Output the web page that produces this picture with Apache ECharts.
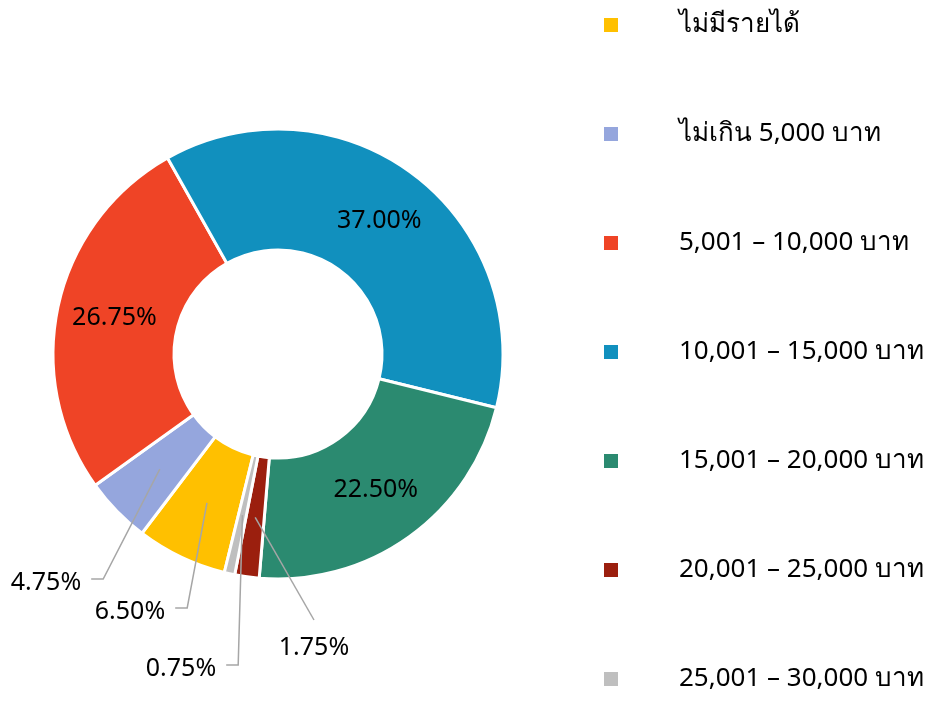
<!DOCTYPE html>
<html>
<head>
<meta charset="utf-8">
<script src="https://cdn.jsdelivr.net/npm/echarts@6/dist/echarts.min.js"></script>
<style>
  html, body { margin: 0; padding: 0; background: #fff; }
  #chart { width: 945px; height: 702px; }
</style>
</head>
<body>
<div id="chart"></div>
<script>
// ช่วงรายได้ (legend order, also clockwise order of the slices)
const categories = [
  'ไม่มีรายได้',
  'ไม่เกิน 5,000 บาท',
  '5,001 – 10,000 บาท',
  '10,001 – 15,000 บาท',
  '15,001 – 20,000 บาท',
  '20,001 – 25,000 บาท',
  '25,001 – 30,000 บาท'
];
const percents = [6.50, 4.75, 26.75, 37.00, 22.50, 1.75, 0.75];
const colors = ['#FFC000', '#95A6DD', '#EF4426', '#1190BE', '#2B8A70', '#9B1F0E', '#BFBFBF'];

// slices whose value sits inside the ring; the rest get callouts
const insideLabel = [false, false, true, true, true, false, false];
// callout text centre [x, y] and leader style ('side' | 'top')
const calloutPos = [[130, 612], [46, 583], null, null, null, [314, 648], [181, 669]];
const calloutKind = ['side', 'side', null, null, null, 'top', 'side'];

const FONT = '"Noto Sans", "DejaVu Sans", sans-serif';
const CENTER = [278, 354];
const START = 256.2;

const chart = echarts.init(document.getElementById('chart'));

const ringData = categories.map((name, i) => ({
  name: name,
  value: percents[i],
  itemStyle: { color: colors[i] },
  label: { show: insideLabel[i] }
}));

const calloutData = categories.map((name, i) => ({
  name: name,
  value: percents[i],
  label: { show: !insideLabel[i] },
  labelLine: { show: !insideLabel[i] }
}));

function fmt(p) {
  return p.value.toFixed(2) + '%';
}

chart.setOption({
  backgroundColor: '#fff',
  animation: false,
  legend: {
    orient: 'vertical',
    left: 602,
    top: 10,
    padding: 0,
    itemGap: 79,
    itemWidth: 16,
    itemHeight: 16,
    icon: 'rect',
    selectedMode: false,
    data: categories,
    textStyle: {
      fontFamily: FONT,
      fontSize: 26,
      lineHeight: 30,
      color: '#000',
      padding: [0, 0, 0, 55]
    }
  },
  series: [
    {
      type: 'pie',
      z: 2,
      center: CENTER,
      radius: [104, 225],
      startAngle: START,
      clockwise: true,
      silent: true,
      data: ringData,
      itemStyle: { borderColor: '#fff', borderWidth: 3 },
      label: {
        position: 'inside',
        formatter: fmt,
        fontFamily: FONT,
        fontSize: 25,
        color: '#000'
      },
      labelLine: { show: false },
      emphasis: { disabled: true }
    },
    {
      // invisible copy whose rim is mid-ring, so callout leaders start inside each slice
      type: 'pie',
      z: 5,
      center: CENTER,
      radius: [0, 165],
      startAngle: START,
      clockwise: true,
      silent: true,
      data: calloutData,
      itemStyle: { color: 'rgba(0,0,0,0)', borderWidth: 0 },
      label: {
        position: 'outside',
        formatter: fmt,
        fontFamily: FONT,
        fontSize: 25,
        color: '#000'
      },
      labelLine: {
        length: 20,
        length2: 12,
        lineStyle: { color: '#a6a6a6', width: 1.5 }
      },
      labelLayout: function (params) {
        const pos = calloutPos[params.dataIndex];
        if (!pos) return {};
        const w = params.labelRect.width;
        const start = params.labelLinePoints ? params.labelLinePoints[0] : null;
        const out = { x: pos[0], y: pos[1], align: 'center', verticalAlign: 'middle' };
        if (start) {
          if (calloutKind[params.dataIndex] === 'top') {
            out.labelLinePoints = [start, [pos[0], pos[1] - 28]];
          } else {
            const right = pos[0] + w / 2;
            out.labelLinePoints = [start, [right + 22, pos[1] - 4], [right + 10, pos[1] - 4]];
          }
        }
        return out;
      },
      emphasis: { disabled: true }
    }
  ]
});
</script>
</body>
</html>
